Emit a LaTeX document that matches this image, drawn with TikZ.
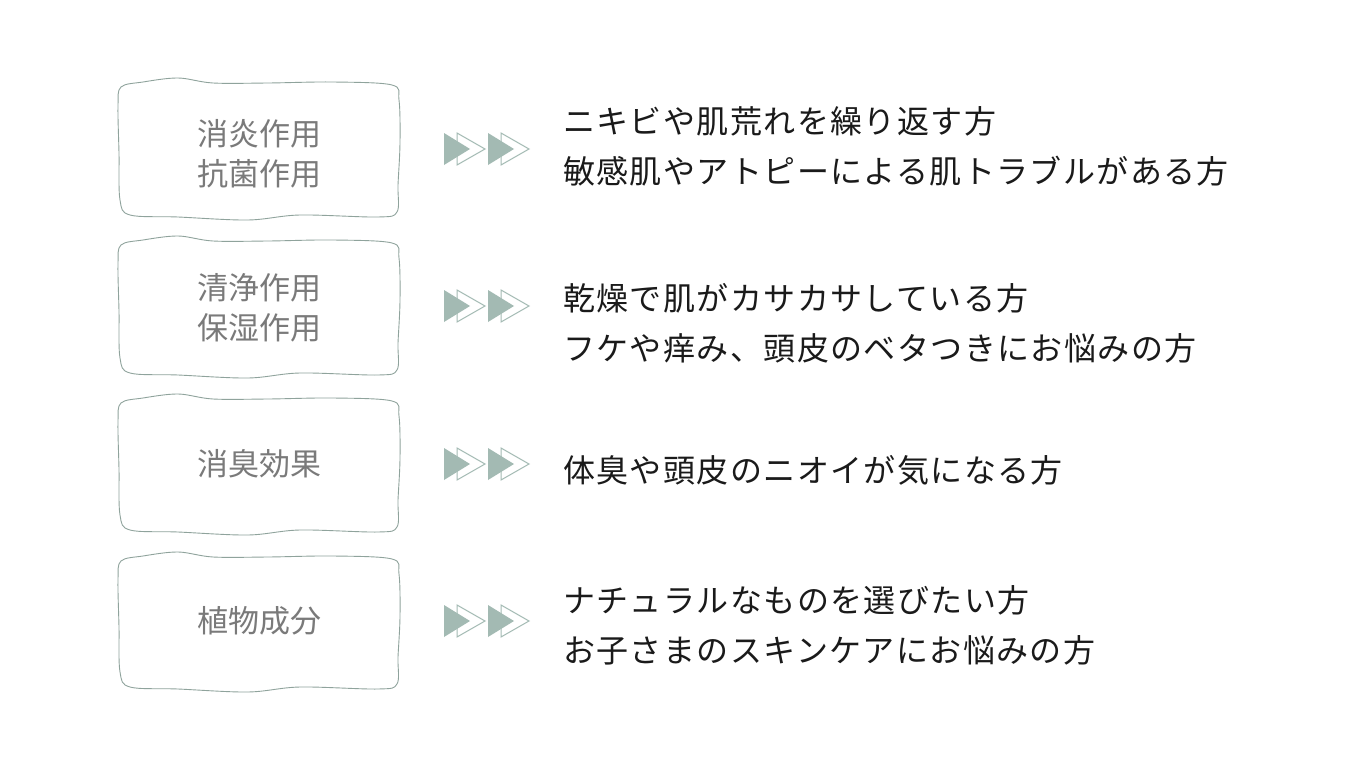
\documentclass[tikz,border=0pt]{standalone}
\usepackage{fontspec}
\newfontfamily\jp{Noto Sans CJK JP}
\newfontfamily\jpsp{Noto Sans CJK JP}[LetterSpace=4.4]
\definecolor{edge}{HTML}{8FA39C}
\definecolor{tri}{HTML}{A3BAB3}
\definecolor{boxtxt}{HTML}{7A7A7A}
\definecolor{maintxt}{HTML}{1A1A1A}
\newcommand\wobblybox[4]{%
  \draw[edge, line width=0.9pt] plot[smooth cycle, tension=0.55] coordinates {
    ({#1+3},{#2+9}) ({#1+25},{#2+4}) ({#1+60},{#2+0}) ({#1+95},{#2+5})
    ({#1+150},{#2+5}) ({#1+215},{#2+4}) ({#3-8},{#2+7}) ({#3-1},{#2+22})
    ({#3+0},{#2+65}) ({#3-2},{(#4)-35}) ({#3-3},{(#4)-8}) ({#3-22},{(#4)-3})
    ({#3-100},{(#4)-5}) ({#1+130},{#4+0}) ({#1+60},{(#4)-3}) ({#1+12},{(#4)-5})
    ({#1+2},{(#4)-20}) ({#1+1},{#2+75}) ({#1+0},{#2+28})};}
\newcommand\tripair[3]{% x, ycenter, name
  \fill[tri] (#1,{#2-16}) -- ({#1+26},#2) -- (#1,{#2+16}) -- cycle;
  \draw[tri, line width=1pt] ({#1+13},{#2-16}) -- ({#1+41},#2) -- ({#1+13},{#2+16}) -- cycle;
  \fill[tri] ({#1+44},{#2-16}) -- ({#1+70},#2) -- ({#1+44},{#2+16}) -- cycle;
  \draw[tri, line width=1pt] ({#1+57},{#2-16}) -- ({#1+85},#2) -- ({#1+57},{#2+16}) -- cycle;
  \coordinate (#3) at ({#1+42},#2);}
\begin{document}
\begin{tikzpicture}[x=1pt,y=-1pt,
  boxlabel/.style={font=\jp\fontsize{31}{40}\selectfont, text=boxtxt, align=center, anchor=base, inner sep=0pt},
  desc/.style={font=\jpsp\fontsize{32}{40}\selectfont, text=maintxt, anchor=base west, inner sep=0pt}]
\useasboundingbox[fill=white] (0,0) rectangle (1366,768);
% boxes
\wobblybox{118}{78}{400}{220}
\wobblybox{118}{236}{400}{378}
\wobblybox{118}{394}{400}{535}
\wobblybox{118}{552}{400}{692}
\node[boxlabel] (b1a) at (259,145) {消炎作用};
\node[boxlabel] (b1b) at (259,185) {抗菌作用};
\node[boxlabel] (b2a) at (259,299) {清浄作用};
\node[boxlabel] (b2b) at (259,339) {保湿作用};
\node[boxlabel] (b3) at (259,475) {消臭効果};
\node[boxlabel] (b4) at (259,632) {植物成分};
% arrows
\tripair{444}{149}{a1}
\tripair{444}{306}{a2}
\tripair{444}{464}{a3}
\tripair{444}{621}{a4}
% descriptions
\node[desc] (d1a) at (563,133) {ニキビや肌荒れを繰り返す方};
\node[desc] (d1b) at (563,183) {敏感肌やアトピーによる肌トラブルがある方};
\node[desc] (d2a) at (563,310) {乾燥で肌がカサカサしている方};
\node[desc] (d2b) at (563,360) {フケや痒み、頭皮のベタつきにお悩みの方};
\node[desc] (d3) at (563,482) {体臭や頭皮のニオイが気になる方};
\node[desc] (d4a) at (563,612) {ナチュラルなものを選びたい方};
\node[desc] (d4b) at (563,662) {お子さまのスキンケアにお悩みの方};
\end{tikzpicture}
\end{document}
